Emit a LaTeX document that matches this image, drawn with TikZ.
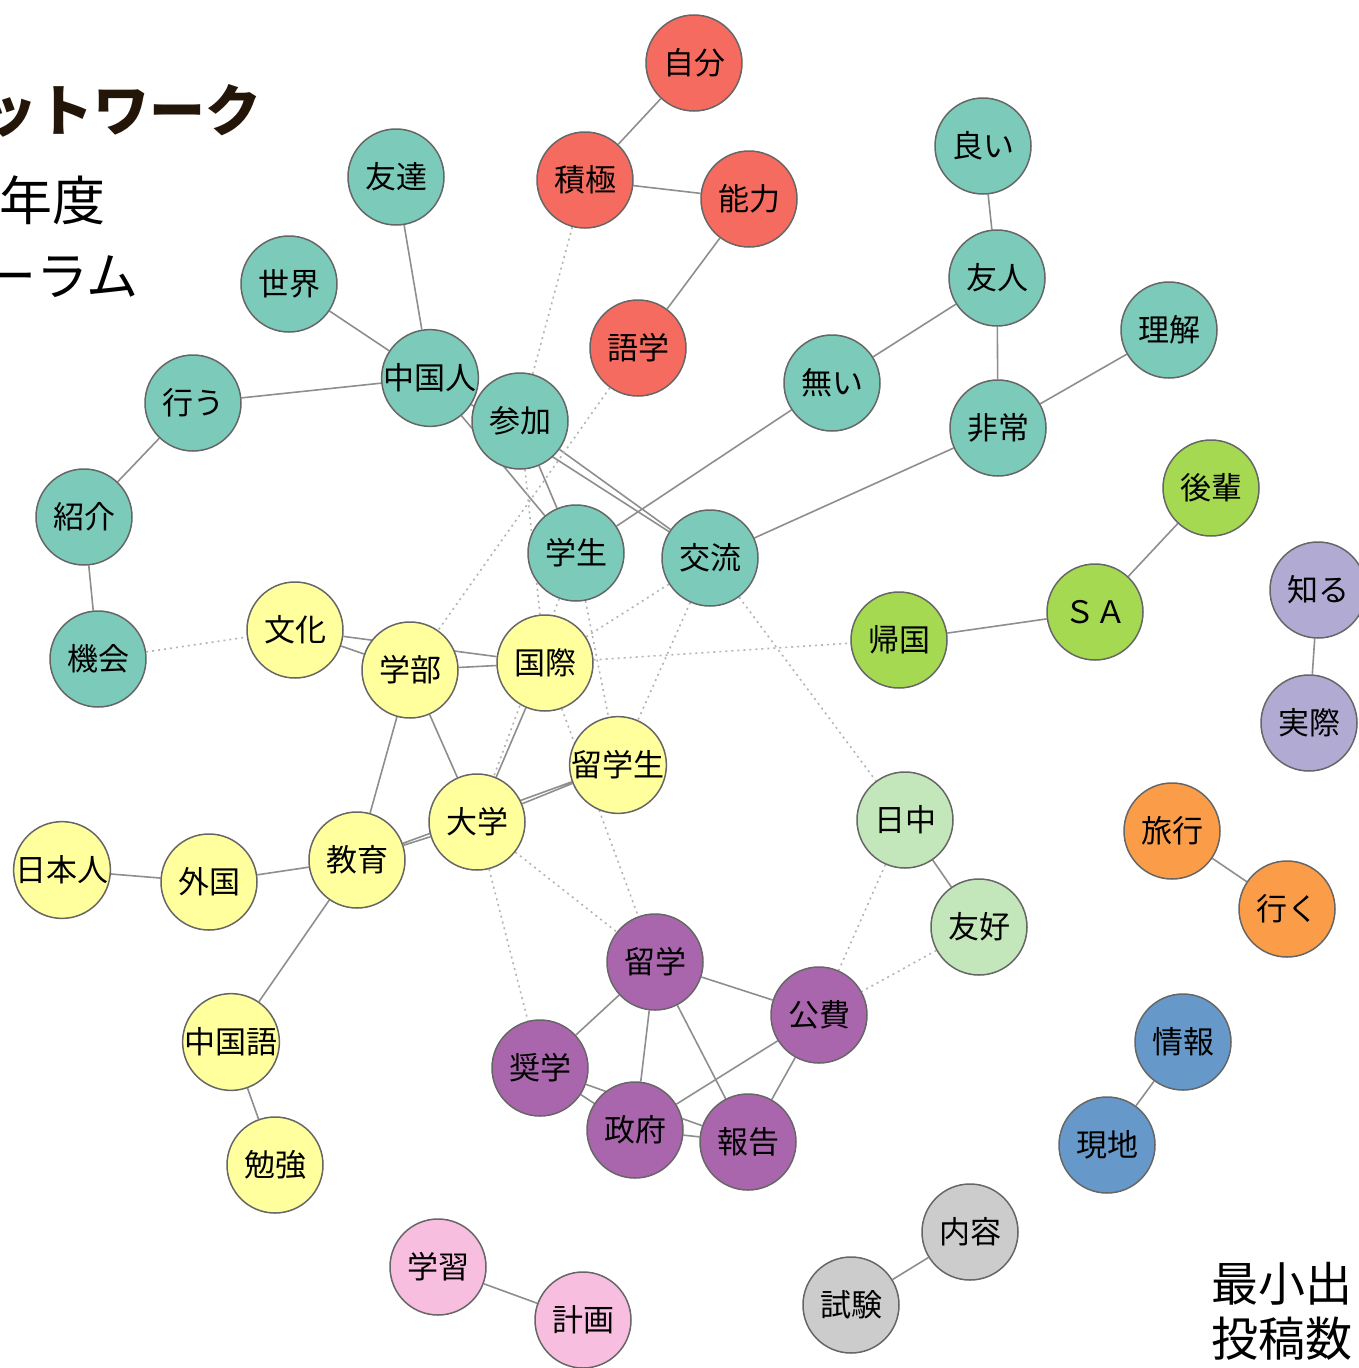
\documentclass[tikz,border=0pt]{standalone}
\usepackage{fontspec}
\setmainfont{Noto Sans CJK JP}
\usetikzlibrary{backgrounds}

\definecolor{cteal}{HTML}{7CCAB9}
\definecolor{cred}{HTML}{F66B5F}
\definecolor{cyellow}{HTML}{FFFF9E}
\definecolor{cpurple}{HTML}{AA66AD}
\definecolor{clime}{HTML}{A5D952}
\definecolor{cmint}{HTML}{C3E7BA}
\definecolor{clav}{HTML}{B1ABD3}
\definecolor{corange}{HTML}{FB9D48}
\definecolor{cblue}{HTML}{6699C9}
\definecolor{cgray}{HTML}{CCCCCC}
\definecolor{cpink}{HTML}{F8BEDF}
\definecolor{ring}{HTML}{666666}
\definecolor{tiegray}{HTML}{8E8E8E}
\definecolor{dotgray}{HTML}{B4B4B4}
\definecolor{titleink}{HTML}{231608}

\tikzset{
    word/.style={circle, draw=ring, line width=1.5pt, minimum size=96pt, inner sep=0pt,
        text height=25.7pt, text depth=2.2pt, font=\fontsize{31}{31}\selectfont},
    tie/.style={draw=tiegray, line width=1.6pt},
    weak/.style={draw=dotgray, line width=1.6pt, dash pattern=on 2pt off 4pt},
    caption/.style={inner sep=0pt}
}

\begin{document}
\begin{tikzpicture}[x=1pt, y=-1pt]
    \useasboundingbox (0,0) rectangle (1358,1368);

    % Titles
    \node[caption, anchor=base east, text=titleink, font=\fontsize{56}{56}\selectfont\bfseries] (t1) at (262,131) {ットワーク};
    \node[caption, anchor=base east, font=\fontsize{53}{53}\selectfont] (t2) at (106,220) {年度};
    \node[caption, anchor=base east, font=\fontsize{52}{52}\selectfont] (t3) at (139,295) {ーラム};
    \node[caption, anchor=base west, font=\fontsize{47}{47}\selectfont] (t4) at (1211,1301) {最小出};
    \node[caption, anchor=base west, font=\fontsize{47}{47}\selectfont] (t5) at (1211,1356) {投稿数};

    % Words
    % -- red
    \node[word, fill=cred] (jibun) at (694,63) {自分};
    \node[word, fill=cred] (sekkyoku) at (585,180) {積極};
    \node[word, fill=cred] (nouryoku) at (749,199) {能力};
    \node[word, fill=cred] (gogaku) at (638,348) {語学};

    % -- teal
    \node[word, fill=cteal] (yoi) at (983,146) {良い};
    \node[word, fill=cteal] (yuujin) at (997,278) {友人};
    \node[word, fill=cteal] (rikai) at (1169,330) {理解};
    \node[word, fill=cteal] (hijou) at (998,428) {非常};
    \node[word, fill=cteal] (nai) at (832,383) {無い};
    \node[word, fill=cteal] (tomodachi) at (396,177) {友達};
    \node[word, fill=cteal] (sekai) at (289,284) {世界};
    \node[word, fill=cteal] (chugokujin) at (430,378) {中国人};
    \node[word, fill=cteal] (sanka) at (520,421) {参加};
    \node[word, fill=cteal] (okonau) at (193,403) {行う};
    \node[word, fill=cteal] (shoukai) at (84,517) {紹介};
    \node[word, fill=cteal] (kikai) at (98,659) {機会};
    \node[word, fill=cteal] (gakusei) at (576,553) {学生};
    \node[word, fill=cteal] (kouryuu) at (710,558) {交流};

    % -- lime, lavender
    \node[word, fill=clime] (kouhai) at (1211,488) {後輩};
    \node[word, fill=clime] (sa) at (1095,612) {ＳＡ};
    \node[word, fill=clime] (kikoku) at (899,640) {帰国};
    \node[word, fill=clav] (shiru) at (1318,590) {知る};
    \node[word, fill=clav] (jissai) at (1309,723) {実際};

    % -- yellow
    \node[word, fill=cyellow] (bunka) at (295,630) {文化};
    \node[word, fill=cyellow] (gakubu) at (410,670) {学部};
    \node[word, fill=cyellow] (kokusai) at (545,663) {国際};
    \node[word, fill=cyellow] (ryugakusei) at (618,765) {留学生};
    \node[word, fill=cyellow] (daigaku) at (477,822) {大学};
    \node[word, fill=cyellow] (kyouiku) at (357,860) {教育};
    \node[word, fill=cyellow] (gaikoku) at (209,882) {外国};
    \node[word, fill=cyellow] (nihonjin) at (62,870) {日本人};
    \node[word, fill=cyellow] (chugokugo) at (231,1042) {中国語};
    \node[word, fill=cyellow] (benkyou) at (275,1165) {勉強};

    % -- small groups
    \node[word, fill=cmint] (nicchu) at (905,820) {日中};
    \node[word, fill=cmint] (yuukou) at (979,927) {友好};
    \node[word, fill=corange] (ryokou) at (1172,831) {旅行};
    \node[word, fill=corange] (iku) at (1287,909) {行く};
    \node[word, fill=cblue] (jouhou) at (1183,1042) {情報};
    \node[word, fill=cblue] (genchi) at (1107,1145) {現地};
    \node[word, fill=cgray] (naiyou) at (970,1232) {内容};
    \node[word, fill=cgray] (shiken) at (851,1305) {試験};
    \node[word, fill=cpink] (gakushuu) at (438,1267) {学習};
    \node[word, fill=cpink] (keikaku) at (583,1320) {計画};

    % -- purple
    \node[word, fill=cpurple] (ryugaku) at (655,962) {留学};
    \node[word, fill=cpurple] (kouhi) at (819,1015) {公費};
    \node[word, fill=cpurple] (shougaku) at (540,1068) {奨学};
    \node[word, fill=cpurple] (seifu) at (635,1130) {政府};
    \node[word, fill=cpurple] (houkoku) at (748,1142) {報告};

    \begin{scope}[on background layer]
        % Strong ties
        \draw[tie] (jibun) -- (sekkyoku) (sekkyoku) -- (nouryoku) (nouryoku) -- (gogaku);
        \draw[tie] (yoi) -- (yuujin) (yuujin) -- (nai) (yuujin) -- (hijou) (hijou) -- (rikai)
            (hijou) -- (kouryuu) (nai) -- (gakusei);
        \draw[tie] (tomodachi) -- (chugokujin) (sekai) -- (chugokujin) (okonau) -- (chugokujin)
            (okonau) -- (shoukai) (shoukai) -- (kikai);
        \draw[tie] (chugokujin) -- (gakusei) (chugokujin) -- (kouryuu) (sanka) -- (gakusei)
            (sanka) -- (kouryuu);
        \draw[tie] (kouhai) -- (sa) (sa) -- (kikoku) (shiru) -- (jissai);
        \draw[tie] (bunka) -- (gakubu) (bunka) -- (kokusai) (gakubu) -- (kokusai)
            (gakubu) -- (kyouiku) (gakubu) -- (daigaku) (kokusai) -- (daigaku)
            (daigaku) -- (ryugakusei) (kyouiku) -- (daigaku) (kyouiku) -- (ryugakusei);
        \draw[tie] (nihonjin) -- (gaikoku) (gaikoku) -- (kyouiku) (kyouiku) -- (chugokugo)
            (chugokugo) -- (benkyou);
        \draw[tie] (nicchu) -- (yuukou) (ryokou) -- (iku) (jouhou) -- (genchi)
            (naiyou) -- (shiken) (gakushuu) -- (keikaku);
        \draw[tie] (ryugaku) -- (kouhi) (ryugaku) -- (shougaku) (ryugaku) -- (seifu)
            (ryugaku) -- (houkoku) (kouhi) -- (seifu) (kouhi) -- (houkoku)
            (shougaku) -- (seifu) (shougaku) -- (houkoku) (seifu) -- (houkoku);

        % Weak ties
        \draw[weak] (kikai) -- (bunka) (sekkyoku) -- (sanka) (gogaku) -- (gakubu)
            (sanka) -- (kokusai) (gakusei) -- (ryugakusei) (gakusei) -- (daigaku);
        \draw[weak] (kouryuu) -- (kokusai) (kouryuu) -- (ryugakusei) (kouryuu) -- (nicchu)
            (kokusai) -- (kikoku) (kokusai) -- (ryugaku);
        \draw[weak] (daigaku) -- (ryugaku) (daigaku) -- (shougaku) (nicchu) -- (kouhi)
            (yuukou) -- (kouhi);
    \end{scope}
\end{tikzpicture}
\end{document}
